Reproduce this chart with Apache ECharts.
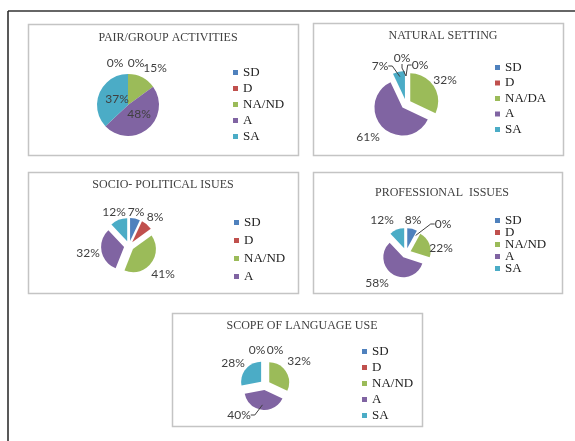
<!DOCTYPE html>
<html><head><meta charset="utf-8">
<script src="https://cdn.jsdelivr.net/npm/echarts@6/dist/echarts.min.js"></script>
<style>html,body{margin:0;padding:0;background:#fff}#c{width:575px;height:441px}</style>
</head><body><div id="c"></div>
<script>
// ---- data ----
const categories = ['SD', 'D', 'NA/ND', 'A', 'SA'];
const categoriesNatural = ['SD', 'D', 'NA/DA', 'A', 'SA'];
const chartTitles = ['PAIR/GROUP ACTIVITIES', 'NATURAL SETTING', 'SOCIO- POLITICAL ISUES', 'PROFESSIONAL  ISSUES', 'SCOPE OF LANGUAGE USE'];
const pairGroup = [0, 0, 15, 48, 37];
const naturalSetting = [0, 0, 32, 61, 7];
const socioPolitical = [7, 8, 41, 32, 12];
const professional = [8, 0, 22, 58, 12];
const scopeLanguage = [0, 0, 32, 40, 28];
const socioLegend = ['SD', 'D', 'NA/ND', 'A'];

// ---- styles / layout ----
const colors = ['#4f81bd', '#c0504d', '#9bbb59', '#8064a2', '#4bacc6'];
const labelFont = {fontFamily: 'Lato, "Open Sans", sans-serif', fontSize: 12, color: '#404040'};
const serif = '"Liberation Serif", "DejaVu Serif", serif';

// label anchor offsets relative to each pie centre (text placement only)
const panels = [
  {box: [28, 24, 270, 131], title: [163, 27], center: [128, 105], r: 31, explode: false, cats: categories, vals: pairGroup, legend: categories, leg: [233, 66, 3],
   lab: [[-13, -42], [8, -42], [27, -37], [11, 9], [-11, -6]], lines: []},
  {box: [313, 23, 250, 132], title: [438, 25], center: [406, 104], r: 28, explode: true, cats: categoriesNatural, vals: naturalSetting, legend: categoriesNatural, leg: [495, 61, 2.5],
   lab: [[-4, -46], [14, -39], [39, -24], [-38, 33], [-26, -38]], lines: [0, 1, 4]},
  {box: [28, 172, 270, 121], title: [158, 174], center: [129, 246], r: 23, explode: true, cats: categories, vals: socioPolitical, legend: socioLegend, leg: [234, 216, 5],
   lab: [[7, -34], [26, -29], [34, 28], [-41, 7], [-15, -34]], lines: []},
  {box: [313, 172, 249, 121], title: [437, 182], center: [406, 253], r: 20, explode: true, cats: categories, vals: professional, legend: categories, leg: [495, 214, -1],
   lab: [[7, -33], [37, -29], [35, -5], [-29, 30], [-24, -33]], lines: [1]},
  {box: [172, 313, 250, 113], title: [297, 315], center: [265, 385], r: 20, explode: true, cats: categories, vals: scopeLanguage, legend: categories, leg: [362, 345, 3],
   lab: [[-8, -35], [10, -35], [34, -24], [-26, 30], [-32, -22]], lines: [3]}
];

const graphic = [];
graphic.push({type: 'line', shape: {x1: 8, y1: 11, x2: 575, y2: 11}, style: {stroke: '#333', lineWidth: 1.5}, z: -10});
graphic.push({type: 'line', shape: {x1: 8, y1: 11, x2: 8, y2: 441}, style: {stroke: '#222', lineWidth: 1.5}, z: -10});
panels.forEach(p => {
  graphic.push({type: 'rect', shape: {x: p.box[0] + 0.5, y: p.box[1] + 0.5, width: p.box[2], height: p.box[3]},
    style: {fill: '#fff', stroke: '#c4c4c4', lineWidth: 1.5}, z: -5});
});

const title = panels.map((p, i) => ({
  text: chartTitles[i], left: p.title[0], top: p.title[1], textAlign: 'center',
  textStyle: {fontFamily: serif, fontSize: 12, fontWeight: 'normal', color: '#404040'}
}));

const legend = panels.map(p => ({
  data: p.legend, orient: 'vertical', left: p.leg[0], top: p.leg[1], itemGap: p.leg[2],
  itemWidth: 5, itemHeight: 5, icon: 'rect', selectedMode: false, padding: 0,
  textStyle: {fontFamily: serif, fontSize: 13, color: '#222'}
}));

// visible (possibly exploded) pies, no labels
const pieSeries = panels.map((p, si) => ({
  type: 'pie', name: chartTitles[si], center: p.center, radius: p.r,
  startAngle: 90, clockwise: true, avoidLabelOverlap: false, animation: false,
  selectedMode: p.explode ? 'multiple' : false, selectedOffset: 5,
  emphasis: {disabled: true}, silent: true,
  label: {show: false}, labelLine: {show: false},
  data: p.vals.map((v, i) => ({
    name: p.cats[i], value: v, selected: p.explode,
    itemStyle: {color: colors[i]}
  }))
}));

// transparent twin pies that carry the percentage labels
const labelSeries = panels.map((p, si) => ({
  type: 'pie', name: chartTitles[si] + ' labels', center: p.center, radius: p.r,
  startAngle: 90, clockwise: true, avoidLabelOverlap: false, animation: false,
  selectedMode: false, emphasis: {disabled: true}, silent: true, z: 3,
  itemStyle: {color: 'rgba(0,0,0,0)'},
  label: Object.assign({show: true, position: 'outside', formatter: '{c}%'}, labelFont),
  labelLine: {show: false, length: 4, length2: 4, lineStyle: {color: '#404040', width: 1}},
  labelLayout: function (params) {
    const o = p.lab[params.dataIndex];
    return {x: p.center[0] + o[0], y: p.center[1] + o[1], align: 'center', verticalAlign: 'middle'};
  },
  data: p.vals.map((v, i) => ({
    name: p.cats[i], value: v,
    labelLine: p.lines.includes(i) ? {show: true} : undefined
  }))
}));

const chart = echarts.init(document.getElementById('c'), null, {renderer: 'canvas'});
chart.setOption({animation: false, color: colors, graphic, title, legend, series: pieSeries.concat(labelSeries)});
</script>
</body></html>
